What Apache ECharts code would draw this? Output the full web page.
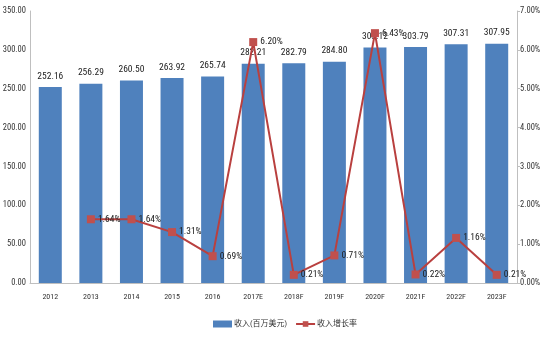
<!DOCTYPE html>
<html><head><meta charset="utf-8">
<script src="https://cdn.jsdelivr.net/npm/echarts@6/dist/echarts.min.js"></script>
<style>html,body{margin:0;padding:0;background:#fff}#c{width:544px;height:338px}</style>
</head><body><div id="c"></div>
<script>
var categories = ['2012','2013','2014','2015','2016','2017E','2018F','2019F','2020F','2021F','2022F','2023F'];
var revenue = [252.16,256.29,260.50,263.92,265.74,282.21,282.79,284.80,303.12,303.79,307.31,307.95];
var growth = [null,1.64,1.64,1.31,0.69,6.20,0.21,0.71,6.43,0.22,1.16,0.21];
var leftTicks = [0,50,100,150,200,250,300,350];
var rightTicks = [0,1,2,3,4,5,6,7];
var FONT = '"Roboto Condensed","Noto Sans CJK SC",sans-serif';
var chart = echarts.init(document.getElementById('c'));
chart.setOption({
  animation:false,
  textStyle:{fontFamily:FONT},
  grid:{left:30,right:27,top:11,bottom:55,containLabel:false,outerBoundsMode:'none'},
  legend:{top:315,left:208,itemWidth:19,itemHeight:7,itemGap:8,
    textStyle:{fontFamily:FONT,fontSize:8,color:'#333',padding:[0,0,0,-3]},
    data:[{name:'收入(百万美元)',icon:'rect'},{name:'收入增长率'}]},
  xAxis:{type:'category',data:categories,
    axisLine:{lineStyle:{color:'#bfbfbf'}},axisTick:{show:false},
    axisLabel:{color:'#333',fontSize:8,margin:10,fontFamily:FONT}},
  yAxis:[
    {type:'value',min:0,max:350,interval:50,
     axisLine:{show:true,lineStyle:{color:'#bfbfbf'}},axisTick:{show:false},splitLine:{show:false},
     axisLabel:{color:'#333',fontSize:8.5,margin:4,fontFamily:FONT,formatter:function(v){return v.toFixed(2);}}},
    {type:'value',min:0,max:7,interval:1,
     axisLine:{show:true,lineStyle:{color:'#bfbfbf'}},axisTick:{show:true,length:3,lineStyle:{color:'#bfbfbf'}},splitLine:{show:false},
     axisLabel:{color:'#333',fontSize:8.5,margin:3,fontFamily:FONT,formatter:function(v){return v.toFixed(2)+'%';}}}
  ],
  series:[
    {name:'收入(百万美元)',type:'bar',data:revenue,barWidth:23,
     itemStyle:{color:'#4f81bd'},
     label:{show:true,position:'top',distance:6,color:'#222',fontSize:9.5,fontFamily:FONT,formatter:function(p){return p.value.toFixed(2);}}},
    {name:'收入增长率',type:'line',yAxisIndex:1,data:growth,connectNulls:false,
     symbol:'rect',symbolSize:8,
     lineStyle:{color:'#b9403f',width:2},itemStyle:{color:'#c0504d'},
     label:{show:true,position:'right',distance:3,color:'#222',fontSize:9.5,fontFamily:FONT,formatter:function(p){return p.value.toFixed(2)+'%';}}}
  ]
});
</script></body></html>
